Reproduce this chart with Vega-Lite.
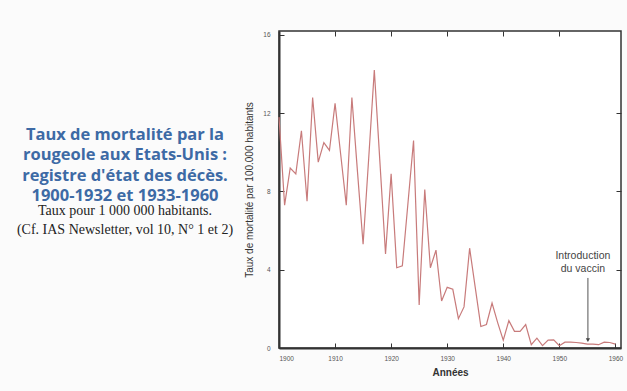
{
  "$schema": "https://vega.github.io/schema/vega-lite/v6.json",
  "autosize": {"type": "none"},
  "width": 342,
  "height": 317,
  "padding": {"left": 279, "top": 31, "right": 6, "bottom": 43},
  "background": "#fbfbfb",
  "title": {
    "text": ["Taux de mortalité par la", "rougeole aux Etats-Unis :", "registre d'état des décès.", "1900-1932 et 1933-1960"],
    "subtitle": ["Taux pour 1 000 000 habitants.", "(Cf. IAS Newsletter, vol 10, N° 1 et 2)"],
    "orient": "top",
    "anchor": "start",
    "frame": "group",
    "align": "center",
    "dx": -154,
    "dy": 206,
    "offset": 0,
    "font": "Open Sans",
    "fontSize": 16.5,
    "fontWeight": "bold",
    "color": "#3d6aa5",
    "lineHeight": 20.5,
    "subtitleFont": "Liberation Serif",
    "subtitleFontSize": 14,
    "subtitleColor": "#222222",
    "subtitleLineHeight": 19,
    "subtitlePadding": -1
  },
  "config": {
    "view": {"stroke": "#333333", "strokeWidth": 1.5, "fill": "#ffffff"},
    "axis": {"grid": false}
  },
  "datasets": {
    "rates": [
      {"annee": 1900, "taux": 11.8}, {"annee": 1901, "taux": 7.3}, {"annee": 1902, "taux": 9.2},
      {"annee": 1903, "taux": 8.9}, {"annee": 1904, "taux": 11.1}, {"annee": 1905, "taux": 7.5},
      {"annee": 1906, "taux": 12.8}, {"annee": 1907, "taux": 9.5}, {"annee": 1908, "taux": 10.5},
      {"annee": 1909, "taux": 10.1}, {"annee": 1910, "taux": 12.5}, {"annee": 1911, "taux": 9.9},
      {"annee": 1912, "taux": 7.3}, {"annee": 1913, "taux": 12.8}, {"annee": 1914, "taux": 9.0},
      {"annee": 1915, "taux": 5.3}, {"annee": 1916, "taux": 9.7}, {"annee": 1917, "taux": 14.2},
      {"annee": 1918, "taux": 9.5}, {"annee": 1919, "taux": 4.8}, {"annee": 1920, "taux": 8.9},
      {"annee": 1921, "taux": 4.1}, {"annee": 1922, "taux": 4.2}, {"annee": 1923, "taux": 7.4},
      {"annee": 1924, "taux": 10.6}, {"annee": 1925, "taux": 2.2}, {"annee": 1926, "taux": 8.1},
      {"annee": 1927, "taux": 4.1}, {"annee": 1928, "taux": 5.0}, {"annee": 1929, "taux": 2.4},
      {"annee": 1930, "taux": 3.1}, {"annee": 1931, "taux": 3.0}, {"annee": 1932, "taux": 1.5},
      {"annee": 1933, "taux": 2.1}, {"annee": 1934, "taux": 5.1}, {"annee": 1935, "taux": 3.1},
      {"annee": 1936, "taux": 1.1}, {"annee": 1937, "taux": 1.2}, {"annee": 1938, "taux": 2.3},
      {"annee": 1939, "taux": 1.3}, {"annee": 1940, "taux": 0.4}, {"annee": 1941, "taux": 1.4},
      {"annee": 1942, "taux": 0.85}, {"annee": 1943, "taux": 0.85}, {"annee": 1944, "taux": 1.2},
      {"annee": 1945, "taux": 0.17}, {"annee": 1946, "taux": 0.5}, {"annee": 1947, "taux": 0.12},
      {"annee": 1948, "taux": 0.4}, {"annee": 1949, "taux": 0.42}, {"annee": 1950, "taux": 0.12},
      {"annee": 1951, "taux": 0.3}, {"annee": 1952, "taux": 0.3}, {"annee": 1953, "taux": 0.28},
      {"annee": 1954, "taux": 0.25}, {"annee": 1955, "taux": 0.2}, {"annee": 1956, "taux": 0.2},
      {"annee": 1957, "taux": 0.17}, {"annee": 1958, "taux": 0.3}, {"annee": 1959, "taux": 0.28},
      {"annee": 1960, "taux": 0.2}
    ],
    "note": [
      {"annee": 1954.2, "fleche": 1955.1, "haut": 4.55, "bas": 3.58, "pointe": 0.4, "label": "Introduction\ndu vaccin"}
    ]
  },
  "layer": [
    {
      "data": {"name": "rates"},
      "mark": {"type": "line", "color": "#c87b7b", "strokeWidth": 1.2},
      "encoding": {
        "x": {
          "field": "annee", "type": "quantitative",
          "scale": {"domain": [1900, 1961], "nice": false, "zero": false},
          "axis": {
            "orient": "bottom", "values": [1900, 1910, 1920, 1930, 1940, 1950, 1960], "format": "d",
            "title": "Années", "titleFont": "Liberation Sans", "titleFontSize": 10, "titleFontWeight": "bold", "titleColor": "#333333", "titlePadding": 6,
            "labelFont": "Liberation Sans", "labelFontSize": 6.5, "labelColor": "#555555", "labelPadding": 12,
            "tickSize": -5, "tickColor": "#333333", "tickWidth": 1,
            "domainColor": "#333333", "domainWidth": 2
          }
        },
        "y": {
          "field": "taux", "type": "quantitative",
          "scale": {"domain": [0, 16.2], "nice": false},
          "axis": {
            "orient": "left", "values": [0, 4, 8, 12, 16],
            "title": "Taux de mortalité par 100.000 habitants", "titleFont": "Liberation Sans", "titleFontSize": 10, "titleFontWeight": "normal", "titleColor": "#333333", "titlePadding": 8,
            "labelFont": "Liberation Sans", "labelFontSize": 6.5, "labelColor": "#555555", "labelPadding": 14,
            "tickSize": -5, "tickColor": "#333333", "tickWidth": 1,
            "domainColor": "#333333", "domainWidth": 2
          }
        }
      }
    },
    {
      "data": {"name": "rates"},
      "mark": {"type": "line", "opacity": 0},
      "encoding": {
        "x": {
          "field": "annee", "type": "quantitative",
          "axis": {"orient": "top", "values": [1910, 1920, 1930, 1940, 1950], "labels": false, "title": null, "tickSize": -5, "tickColor": "#333333", "domain": false}
        },
        "y": {
          "field": "taux", "type": "quantitative",
          "axis": {"orient": "right", "values": [4, 8, 12], "labels": false, "title": null, "tickSize": -5, "tickColor": "#333333", "domain": false}
        }
      }
    },
    {
      "data": {"name": "note"},
      "mark": {"type": "text", "align": "center", "baseline": "alphabetic", "lineBreak": "\n", "font": "Liberation Sans", "fontSize": 10.5, "color": "#444444", "lineHeight": 13},
      "encoding": {
        "x": {"field": "annee", "type": "quantitative", "axis": null},
        "y": {"field": "haut", "type": "quantitative", "axis": null},
        "text": {"field": "label"}
      }
    },
    {
      "data": {"name": "note"},
      "mark": {"type": "rule", "color": "#555555", "strokeWidth": 1},
      "encoding": {
        "x": {"field": "fleche", "type": "quantitative", "axis": null},
        "y": {"field": "bas", "type": "quantitative", "axis": null},
        "y2": {"field": "pointe"}
      }
    },
    {
      "data": {"name": "note"},
      "mark": {"type": "point", "shape": "triangle-down", "filled": true, "color": "#444444", "size": 18, "opacity": 1},
      "encoding": {
        "x": {"field": "fleche", "type": "quantitative", "axis": null},
        "y": {"field": "pointe", "type": "quantitative", "axis": null}
      }
    }
  ],
  "resolve": {"axis": {"x": "independent", "y": "independent"}}
}
